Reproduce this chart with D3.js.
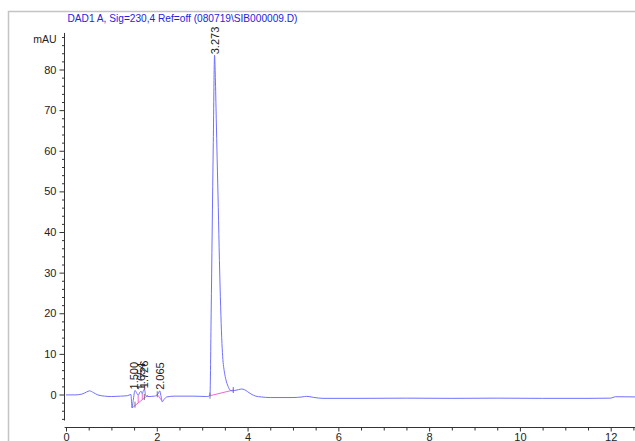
<!DOCTYPE html>
<html>
<head>
<meta charset="utf-8">
<script src="https://cdn.jsdelivr.net/npm/d3@7"></script>
<style>
  html, body { margin: 0; padding: 0; background: #fff; }
  svg { display: block; }
  text { font-family: "Liberation Sans", Arial, sans-serif; }
</style>
</head>
<body>
<svg id="chart" width="635" height="441"></svg>
<script>
// Signal title
const title = "DAD1 A, Sig=230,4 Ref=off (080719\\SIB000009.D)";

// Chromatogram trace: retention time (min) and absorbance (mAU)
const times = [
  0.00, 0.20, 0.35, 0.45, 0.52, 0.60, 0.70, 0.85, 1.00, 1.20, 1.35, 1.43,
  1.455, 1.48, 1.52, 1.56, 1.59, 1.63, 1.654, 1.68, 1.70, 1.726, 1.76, 1.80,
  1.95, 2.03, 2.065, 2.09, 2.12, 2.16, 2.22, 2.40, 2.80, 3.10, 3.15, 3.172,
  3.198, 3.22, 3.245, 3.273, 3.29, 3.31, 3.33, 3.355, 3.38, 3.407, 3.43, 3.452,
  3.49, 3.524, 3.57, 3.612, 3.66, 3.72, 3.80, 3.87, 3.93, 4.00, 4.08, 4.18,
  4.30, 4.50, 5.00, 5.20, 5.30, 5.45, 5.66, 6.50, 7.50, 8.50, 9.50, 10.50,
  11.50, 12.00, 12.10, 12.60
];
const mAU = [
  -0.1, -0.1, 0.1, 0.6, 0.9, 0.5, -0.1, -0.4, -0.5, -0.4, -0.3, 0.0,
  -3.3, -1.5, 1.0, 0.3, -0.2, 0.6, 0.8, 0.2, 0.8, 1.3, -0.3, -0.5,
  -0.4, 0.2, 0.9, -0.2, -1.8, -1.2, -0.6, -0.4, -0.4, -0.5, -0.4, 0.0,
  20, 40, 62, 83.5, 78, 68, 58, 46, 33, 21.6, 14, 9.3,
  5.5, 3.6, 2.0, 1.1, 0.9, 1.0, 1.2, 1.35, 1.2, 0.7, 0.1, -0.4,
  -0.6, -0.75, -0.75, -0.6, -0.45, -0.7, -0.95, -0.95, -0.9, -0.95, -0.9, -0.95,
  -0.95, -0.9, -0.55, -0.6
];

// Integrated peaks: retention time labels and apex heights
const peakTimes = [1.500, 1.654, 1.726, 2.065, 3.273];
const peakLabels = ["1.500", "1.654", "1.726", "2.065", "3.273"];
const peakHeights = [1.0, 0.8, 1.3, 0.9, 83.5];

// Integration baselines: [start time, start mAU, end time, end mAU]
const baseStart = [1.455, 2.01, 3.172];
const baseStartVal = [-3.3, 0.05, -0.3];
const baseEnd = [1.81, 2.11, 3.685];
const baseEndVal = [-0.1, -1.5, 1.1];

// Axis ticks
const xMajor = [0, 2, 4, 6, 8, 10, 12];
const yMajor = [0, 10, 20, 30, 40, 50, 60, 70, 80];

const svg = d3.select("#chart");

const x = d3.scaleLinear().domain([0, 12]).range([66, 610.7]);
const y = d3.scaleLinear().domain([0, 80]).range([394.5, 69.5]);

// Outer frame
svg.append("path")
  .attr("d", "M8.5,441 V11.5 H640")
  .attr("fill", "none")
  .attr("stroke", "#c4c4c4")
  .attr("stroke-width", 1.5);

// Title
svg.append("text")
  .attr("x", 67.5)
  .attr("y", 22)
  .attr("font-size", 11)
  .attr("textLength", 230)
  .attr("lengthAdjust", "spacingAndGlyphs")
  .attr("fill", "#2323dd")
  .text(title);

// Y axis: major ticks with labels, minor ticks every 2 mAU
const yAxisG = svg.append("g").attr("transform", "translate(64.5,0)");
const yMinor = d3.range(-6, 89, 2).filter(v => v % 10 !== 0);
yAxisG.append("g")
  .call(d3.axisLeft(y).tickValues(yMinor).tickSize(2.5).tickFormat(""))
  .call(g => g.select(".domain").remove());
yAxisG.append("g")
  .call(d3.axisLeft(y).tickValues(yMajor).tickSize(5).tickPadding(3))
  .call(g => g.select(".domain").remove());
yAxisG.append("line")
  .attr("x1", 0).attr("x2", 0)
  .attr("y1", y(89)).attr("y2", y(-6.4))
  .attr("stroke", "#333");
yAxisG.selectAll("text").attr("font-size", 11).attr("fill", "#222")
  .attr("font-family", "Liberation Sans, Arial, sans-serif");
yAxisG.selectAll(".tick line").attr("stroke", "#333");
yAxisG.append("text")
  .attr("x", -8).attr("y", y(87.5))
  .attr("dy", "0.35em")
  .attr("text-anchor", "end")
  .attr("font-size", 10.5)
  .attr("fill", "#222")
  .text("mAU");

// X axis: major ticks every 2 min, minor every 0.5 min
const xAxisG = svg.append("g").attr("transform", "translate(0,427.5)");
const xMinor = d3.range(0, 12.6, 0.5).filter(v => v % 2 !== 0);
xAxisG.append("g")
  .call(d3.axisBottom(x).tickValues(xMinor).tickSize(3).tickFormat(""))
  .call(g => g.select(".domain").remove());
xAxisG.append("g")
  .call(d3.axisBottom(x).tickValues(xMajor).tickSize(4).tickPadding(2).tickFormat(d3.format("d")))
  .call(g => g.select(".domain").remove());
xAxisG.append("line")
  .attr("x1", x(-0.03)).attr("x2", 640)
  .attr("stroke", "#333");
xAxisG.selectAll("text").attr("font-size", 11).attr("fill", "#222")
  .attr("font-family", "Liberation Sans, Arial, sans-serif");
xAxisG.selectAll(".tick line").attr("stroke", "#333");

// Integration baselines
const baseG = svg.append("g")
  .attr("stroke", "#f266d6")
  .attr("stroke-width", 1);
baseStart.forEach((t, i) => {
  baseG.append("line")
    .attr("x1", x(t)).attr("y1", y(baseStartVal[i]))
    .attr("x2", x(baseEnd[i])).attr("y2", y(baseEndVal[i]));
});
// Drop lines between the merged early peaks
const lerpBase = (t, i) => baseStartVal[i] + (baseEndVal[i] - baseStartVal[i]) * (t - baseStart[i]) / (baseEnd[i] - baseStart[i]);
const traceAt = t => {
  const j = d3.bisectLeft(times, t);
  if (j <= 0) return mAU[0];
  const t0 = times[j - 1], t1 = times[j];
  return mAU[j - 1] + (mAU[j] - mAU[j - 1]) * (t - t0) / (t1 - t0);
};
[1.59, 1.68].forEach(t => {
  baseG.append("line")
    .attr("x1", x(t)).attr("x2", x(t))
    .attr("y1", y(lerpBase(t, 0))).attr("y2", y(traceAt(t)));
});

// Chromatogram trace
const line = d3.line()
  .x((d, i) => x(times[i]))
  .y((d, i) => y(mAU[i]))
  .curve(d3.curveMonotoneX);
svg.append("path")
  .datum(mAU)
  .attr("d", line)
  .attr("fill", "none")
  .attr("stroke", "#7070ff")
  .attr("stroke-width", 1);

// Peak boundary markers
[[3.172, -0.3], [3.685, 1.1], [1.52, -2.5], [1.726, -0.6], [2.01, 0.05]].forEach(([t, v]) => {
  svg.append("line")
    .attr("x1", x(t)).attr("x2", x(t))
    .attr("y1", y(v) - 3).attr("y2", y(v) + 3)
    .attr("stroke", "#555")
    .attr("stroke-width", 0.8);
});

// Retention time labels above each peak apex
svg.append("g").selectAll("text")
  .data(peakLabels)
  .join("text")
  .attr("transform", (d, i) => `translate(${x(peakTimes[i]) + 4},${y(peakHeights[i]) - 1}) rotate(-90)`)
  .attr("font-size", 11)
  .attr("fill", "#222")
  .text(d => d);
</script>
</body>
</html>
